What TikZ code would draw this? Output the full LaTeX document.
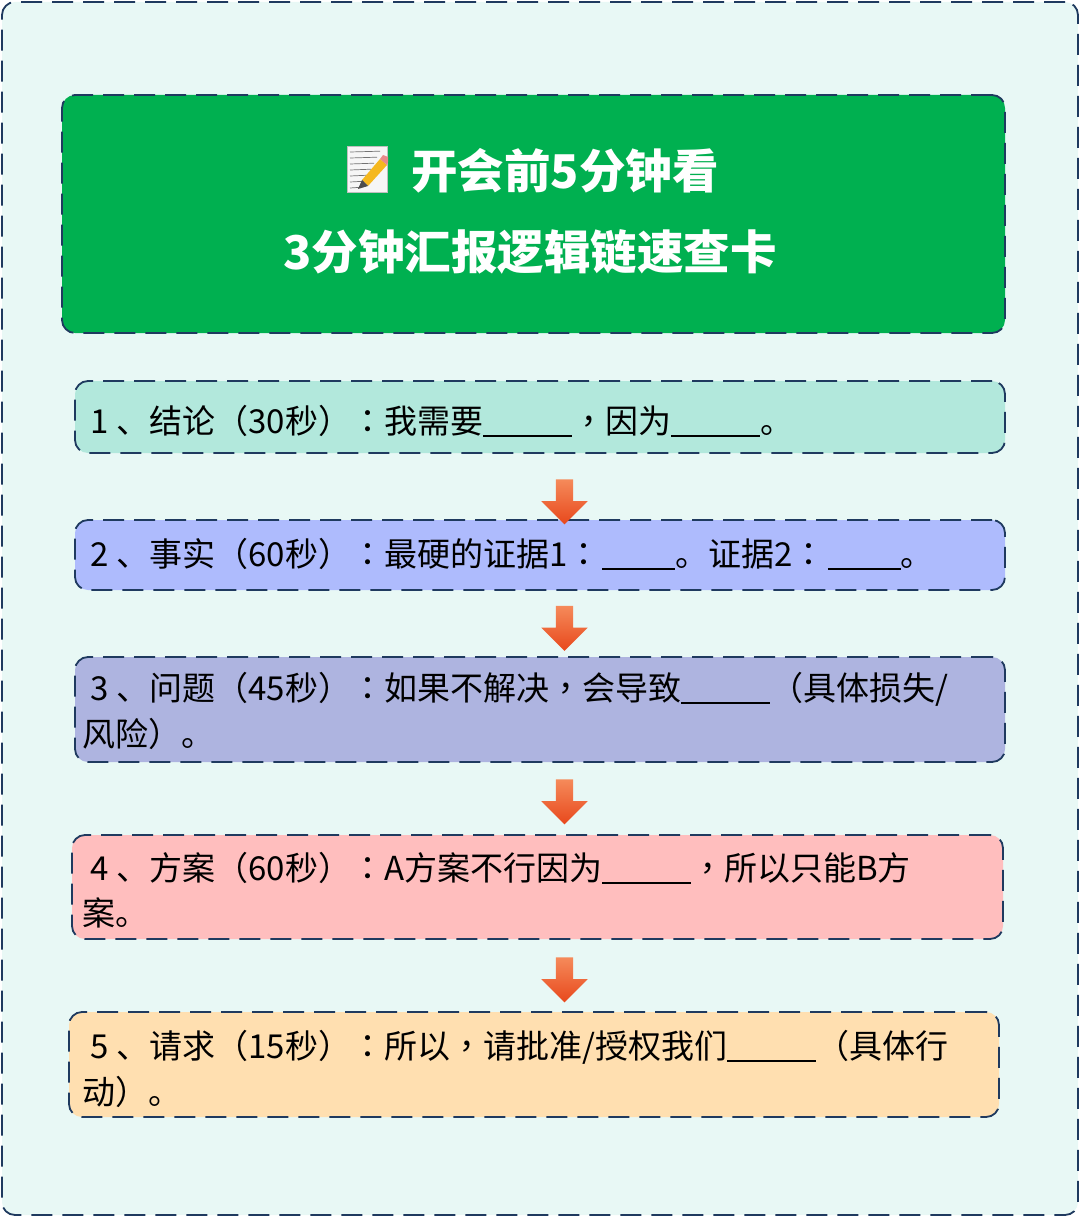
\documentclass[tikz,border=0pt]{standalone}
\usepackage{fontspec}
\usetikzlibrary{shapes.arrows}
\setmainfont{Noto Sans CJK SC}
\newfontfamily\tcfont{Noto Sans CJK TC}
\newcommand{\pun}[1]{{\tcfont #1}}
\newcommand{\gp}{\hspace{8pt}}
\newcommand{\blankfive}{{\fontsize{33}{33}\selectfont\hspace{2pt}\rule[-4pt]{73pt}{2pt}}}
\newcommand{\blanksix}{\rule[-4pt]{89pt}{2pt}}
\definecolor{edge}{HTML}{1F3A5F}
\definecolor{pagefill}{HTML}{E8F8F5}
\definecolor{titlefill}{HTML}{00B050}
\definecolor{fillA}{HTML}{B2E8DC}
\definecolor{fillB}{HTML}{AEBBFD}
\definecolor{fillC}{HTML}{AEB4E0}
\definecolor{fillD}{HTML}{FFBEBE}
\definecolor{fillE}{HTML}{FFDFB0}
\definecolor{arrowtop}{HTML}{F58A5A}
\definecolor{arrowbot}{HTML}{E8481C}
\definecolor{pencil}{HTML}{F5B81E}
\definecolor{eraser}{HTML}{E88A8A}
\tikzset{
  x=1pt,y=-1pt,
  card/.style={draw=edge,line width=1.8pt,dash pattern=on 21pt off 10pt,rounded corners=13pt,anchor=north west,inner sep=0pt,outer sep=0pt},
  linetext/.style={anchor=base west,inner sep=0pt,font=\fontsize{33}{33}\selectfont,text=black},
  titletext/.style={anchor=base west,inner sep=0pt,font=\fontsize{46.5}{46.5}\selectfont\bfseries,text=white},
  flow/.style={single arrow,minimum height=45pt,inner sep=8.5pt,single arrow head extend=14.5pt,single arrow head indent=0pt,shape border rotate=270,draw=none,top color=arrowtop,bottom color=arrowbot},
}
\begin{document}
\begin{tikzpicture}
\useasboundingbox (0,0) rectangle (1080,1217);
\fill[white] (0,0) rectangle (1080,1217);
\node[card,fill=pagefill,minimum width=1076pt,minimum height=1213pt] (page) at (2,2) {};
\node[card,fill=titlefill,minimum width=943pt,minimum height=238pt] (title) at (62,95) {};
\node[card,fill=fillA,minimum width=930pt,minimum height=72pt] (c1) at (75,381) {};
\node[card,fill=fillB,minimum width=930pt,minimum height=70pt] (c2) at (75,520) {};
\node[card,fill=fillC,minimum width=930pt,minimum height=105pt] (c3) at (75,657) {};
\node[card,fill=fillD,minimum width=931pt,minimum height=104pt] (c4) at (72,835) {};
\node[card,fill=fillE,minimum width=930pt,minimum height=105pt] (c5) at (69,1012) {};

% memo emoji
\begin{scope}[shift={(347,146)}]
  \fill[white!93!gray] (0,0) rectangle (40,46);
  \draw[gray!50,line width=.6pt] (0,0) rectangle (40,46);
  \foreach \yy in {6,12,18,24,30,36,42}
    \draw[black!55,line width=.7pt] (3,\yy) -- ({36-\yy/2},\yy-.8);
  \fill[pencil] (15,34) -- (33,13) -- (40,19) -- (21,40) -- cycle;
  \fill[eraser] (33,13) -- (36,9) -- (41,11) -- (41,16) -- (40,19) -- cycle;
  \fill[black!70] (15,34) -- (11,43) -- (21,40) -- cycle;
\end{scope}

\node[titletext] (t1) at (411,189) {开会前5分钟看};
\node[titletext] (t2) at (283,269) {3分钟汇报逻辑链速查卡};

\node[linetext] (l1) at (90,433) {1\gp 、结论\pun{（}30秒\pun{）：}我需要\blanksix\pun{，}因为\blanksix。};
\node[linetext] (l2) at (90,566) {2\gp 、事实\pun{（}60秒\pun{）：}最硬的证据1\pun{：}\blankfive。证据2\pun{：}\blankfive。};
\node[linetext] (l3a) at (90,700) {3\gp 、问题\pun{（}45秒\pun{）：}如果不解决\pun{，}会导致\blanksix\pun{（}具体损失/};
\node[linetext] (l3b) at (82,746) {风险\pun{）}。};
\node[linetext] (l4a) at (90,880) {4\gp 、方案\pun{（}60秒\pun{）：}A方案不行因为\blanksix\pun{，}所以只能B方};
\node[linetext] (l4b) at (82,925) {案。};
\node[linetext] (l5a) at (90,1058) {5\gp 、请求\pun{（}15秒\pun{）：}所以\pun{，}请批准/授权我们\blanksix\pun{（}具体行};
\node[linetext] (l5b) at (82,1104) {动\pun{）}。};

\node[flow] (a1) at (564.5,497.5) {};
\node[flow] (a2) at (564.5,624) {};
\node[flow] (a3) at (564.5,797.5) {};
\node[flow] (a4) at (564.5,975.5) {};
\end{tikzpicture}
\end{document}
